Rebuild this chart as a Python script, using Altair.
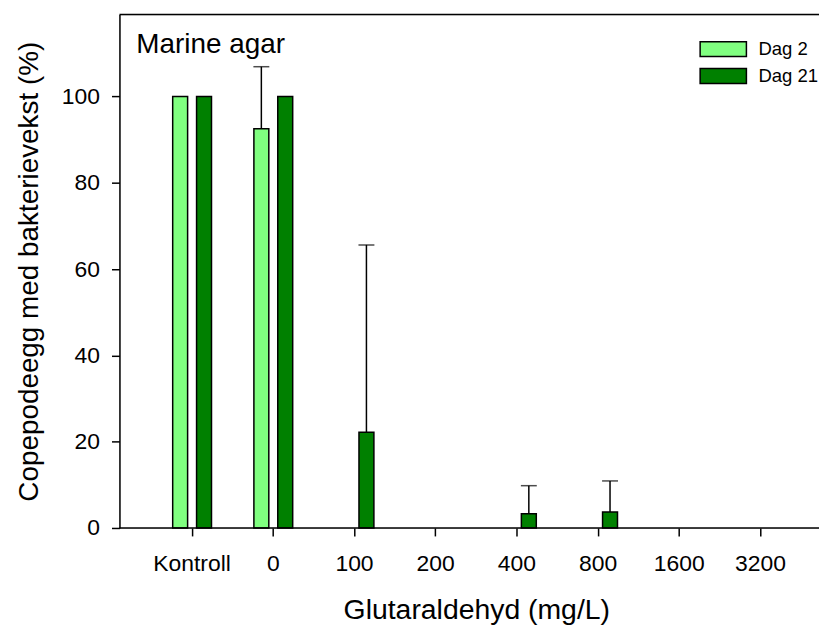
import altair as alt
import pandas as pd

categories = ["Kontroll", "0", "100", "200", "400", "800", "1600", "3200"]
series = ["Dag 2", "Dag 21"]
colors = ["#80FF80", "#008000"]
dag2 = [100, 92.5, 0, 0, 0, 0, 0, 0]
dag2_err = [0, 14.4, 0, 0, 0, 0, 0, 0]
dag21 = [100, 100, 22.2, 0, 3.3, 3.7, 0, 0]
dag21_err = [0, 0, 43.4, 0, 6.5, 7.2, 0, 0]
y_ticks = [0, 20, 40, 60, 80, 100]

rows = []
for s, vals, errs in zip(series, [dag2, dag21], [dag2_err, dag21_err]):
    for c, v, e in zip(categories, vals, errs):
        rows.append({"conc": c, "series": s, "value": v, "upper": v + e, "err": e})
df = pd.DataFrame(rows)

W, H = 703, 516
FONT = "Liberation Sans"

xscale = alt.Scale(domain=categories, range=[32.2, 685], paddingInner=0, paddingOuter=0)
xoff = alt.XOffset("series:N", scale=alt.Scale(domain=series, paddingInner=0.375, paddingOuter=0.8875))
yscale = alt.Scale(domain=[0, 119], nice=False)

xaxis = alt.Axis(title="Glutaraldehyd (mg/L)", domain=False, labelAngle=0, labelAlign="center",
                 labelBaseline="top", tickSize=8,
                 tickWidth=1.5, tickColor="black", labelFontSize=23, labelPadding=17,
                 labelColor="black", titleFontSize=28.5, titlePadding=20, titleColor="black",
                 titleFontWeight="normal", labelFont=FONT, titleFont=FONT)
yaxis = alt.Axis(title="Copepodeegg med bakterievekst (%)", values=y_ticks, grid=False,
                 domainColor="black", domainWidth=1.5, tickSize=8, tickWidth=1.5,
                 tickColor="black", labelFontSize=23, labelPadding=12, labelColor="black",
                 titleFontSize=28, titlePadding=18, titleColor="black",
                 titleFontWeight="normal", labelFont=FONT, titleFont=FONT)

X = alt.X("conc:N", scale=xscale, sort=categories, axis=xaxis)

base = alt.Chart(df)

bars = base.transform_filter("datum.value > 0").mark_bar(stroke="black", strokeWidth=1.5).encode(
    x=X,
    xOffset=xoff,
    y=alt.Y("value:Q", scale=yscale, axis=yaxis),
    color=alt.Color("series:N", scale=alt.Scale(domain=series, range=colors),
                    legend=alt.Legend(title=None, orient="none", legendX=597.5, legendY=25.5,
                                      symbolType="M-3.1,-1H3.1V1H-3.1Z", symbolSize=225,
                                      symbolStrokeColor="black", symbolStrokeWidth=1.5,
                                      labelFont=FONT, labelFontSize=18.6, labelColor="black",
                                      labelOffset=26, rowPadding=5, padding=0)),
)

err_rules = base.transform_filter("datum.err > 0").mark_rule(color="black", strokeWidth=1.5).encode(
    x=X,
    xOffset=xoff,
    y=alt.Y("value:Q", scale=yscale, axis=yaxis),
    y2="upper:Q",
)
err_caps = base.transform_filter("datum.err > 0").mark_tick(color="black", thickness=1.5, size=16).encode(
    x=X,
    xOffset=xoff,
    y=alt.Y("upper:Q", scale=yscale, axis=yaxis),
)

one = alt.Chart(pd.DataFrame({"a": [0]}))
top_line = one.mark_rule(color="black", strokeWidth=1.5).encode(
    x=alt.value(0), x2=alt.value(W), y=alt.value(0))
bottom_line = one.mark_rule(color="black", strokeWidth=1.5).encode(
    x=alt.value(0), x2=alt.value(W + 3), y=alt.value(H))
label = one.mark_text(text="Marine agar", font=FONT, fontSize=28, align="left",
                      baseline="alphabetic", color="black").encode(
    x=alt.value(17), y=alt.value(38.7))

chart = alt.layer(bars, err_rules, err_caps, top_line, bottom_line, label).properties(
    width=W, height=H, autosize="none",
    padding={"left": 112, "top": 5, "right": 0, "bottom": 100},
).configure_view(stroke=None).configure(font=FONT)

chart.save("out.html", embed_options={"renderer": "svg", "actions": False})
